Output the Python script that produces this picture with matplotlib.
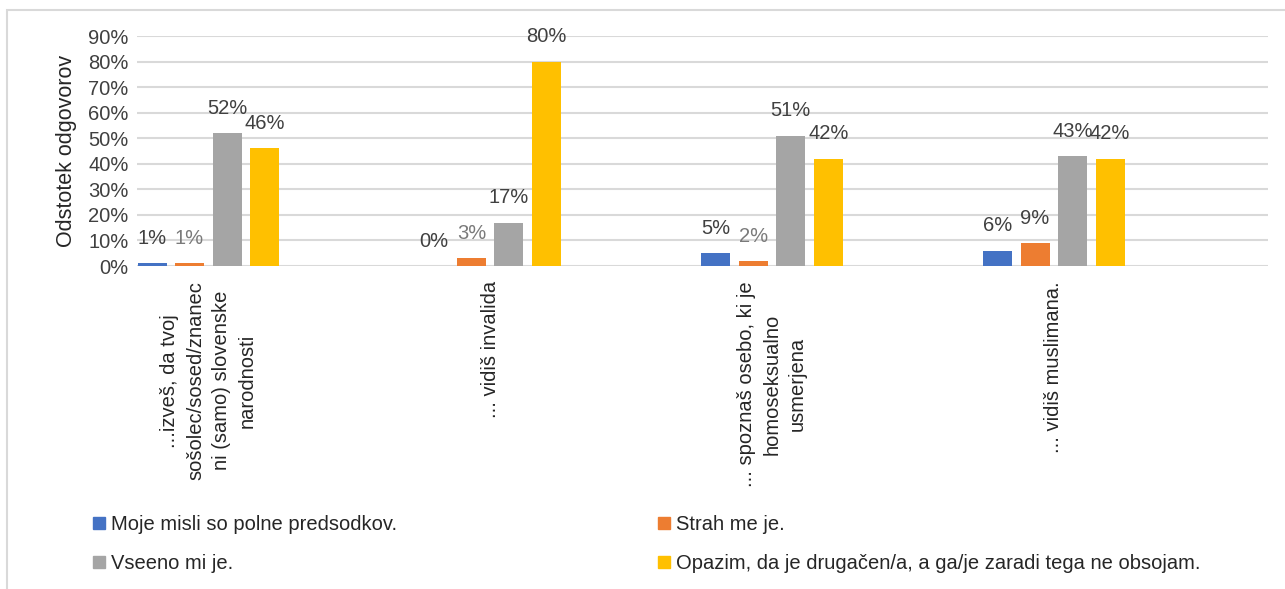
import matplotlib.pyplot as plt
from matplotlib.patches import Rectangle
from matplotlib.lines import Line2D
import numpy as np

# data
categories = ["...izveš, da tvoj\nsošolec/sosed/znanec\nni (samo) slovenske\nnarodnosti",
              "... vidiš invalida",
              "... spoznaš osebo, ki je\nhomoseksualno\nusmerjena",
              "... vidiš muslimana."]
series = ["Moje misli so polne predsodkov.", "Strah me je.", "Vseeno mi je.",
          "Opazim, da je drugačen/a, a ga/je zaradi tega ne obsojam."]
moje = [0.01, 0.00, 0.05, 0.06]
strah = [0.01, 0.03, 0.02, 0.09]
vseeno = [0.52, 0.17, 0.51, 0.43]
opazim = [0.46, 0.80, 0.42, 0.42]
yticks = np.arange(0, 1.0, 0.1)

colors = ["#4472C4", "#ED7D31", "#A5A5A5", "#FFC000"]
# data label colours (the orange series mostly grey)
dark = "#404040"
grey = "#7a7a7a"
label_colors = [[dark] * 4, [grey, grey, grey, dark], [dark] * 4, [dark] * 4]

plt.rcParams['font.family'] = ['Liberation Sans', 'DejaVu Sans']

fig = plt.figure(figsize=(12.85, 5.89), dpi=100)
ax = fig.add_axes([137/1285, 1-266/589, (1268-137)/1285, 230/589])

x = np.arange(len(categories))
w = 0.103
step = 0.133
for k, vals in enumerate([moje, strah, vseeno, opazim]):
    pos = x + (k - 1.5) * step
    ax.bar(pos, vals, width=w, color=colors[k], zorder=3)
    for p, v, c in zip(pos, vals, label_colors[k]):
        ax.annotate(f"{v*100:.0f}%", (p, v), xytext=(0, 11), textcoords='offset points',
                    ha='center', va='bottom', fontsize=14.5, color=c,
                    annotation_clip=False)

ax.set_xlim(-0.253, 3.76)
ax.set_ylim(0, 0.9)
ax.set_yticks(yticks)
ax.set_yticklabels([f"{t*100:.0f}%" for t in yticks], fontsize=14.5, color="#404040")
ax.set_xticks(x)
ax.set_xticklabels(categories, rotation=90, fontsize=14.5, color="#262626",
                   multialignment='center', linespacing=1.45)
ax.tick_params(length=0, axis='x', pad=11)
ax.tick_params(length=0, axis='y', pad=6)
ax.grid(axis='y', color="#d9d9d9", linewidth=1.5, zorder=0)
for s in ax.spines.values():
    s.set_visible(False)
ax.set_ylabel("Odstotek odgovorov", fontsize=15.5, color="#262626", labelpad=8)

# legend, two columns
def handle(c):
    return Line2D([], [], marker='s', linestyle='none', markersize=8.5,
                  markerfacecolor=c, markeredgecolor=c)

leg1 = fig.legend([handle(colors[0]), handle(colors[2])], [series[0], series[2]],
                  loc='center left', bbox_to_anchor=(85/1285, 1-544/589), frameon=False,
                  fontsize=14.5, handlelength=0.6, handletextpad=0.3, labelspacing=0.95,
                  borderaxespad=0)
leg2 = fig.legend([handle(colors[1]), handle(colors[3])], [series[1], series[3]],
                  loc='center left', bbox_to_anchor=(650/1285, 1-544/589), frameon=False,
                  fontsize=14.5, handlelength=0.6, handletextpad=0.3, labelspacing=0.95,
                  borderaxespad=0)
for lg in (leg1, leg2):
    for t in lg.get_texts():
        t.set_color("#262626")

# chart border
fig.add_artist(Rectangle((7/1285, -0.05), 1.1, 1.05 - 10/589, transform=fig.transFigure,
                         fill=False, edgecolor="#d9d9d9", linewidth=1.5))

fig.savefig("out.png", dpi=100)
